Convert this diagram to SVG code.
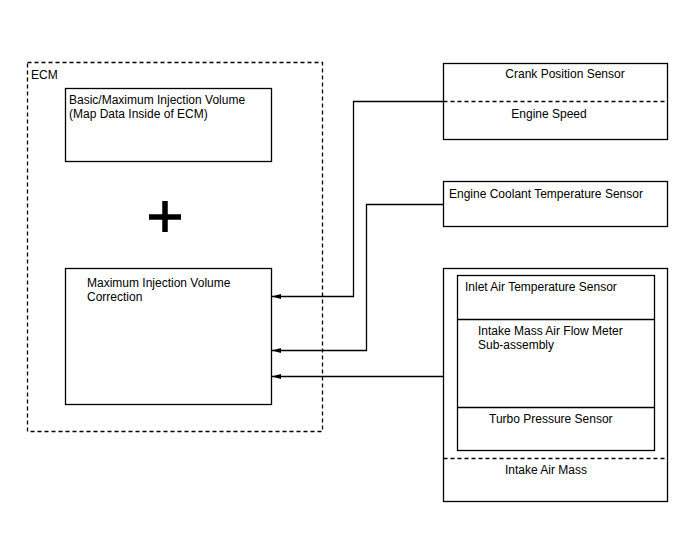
<svg xmlns="http://www.w3.org/2000/svg" width="688" height="560" viewBox="0 0 688 560">
<defs>
<style>
.box{fill:#fff;stroke:#000;stroke-width:1.3}
.dash{fill:none;stroke:#000;stroke-width:1.3;stroke-dasharray:4,3}
.ln{fill:none;stroke:#000;stroke-width:1.3}
text{font-family:"Liberation Sans",Arial,sans-serif;font-size:12px;fill:#000}
</style>
<marker id="ah" markerWidth="10" markerHeight="6" refX="9" refY="3" orient="auto" markerUnits="userSpaceOnUse">
<path d="M0,0.5 L9,3 L0,5.5 Z" fill="#000"/>
</marker>
</defs>
<rect width="688" height="560" fill="#fff"/>
<g id="ecm">
<rect class="dash" x="27.5" y="62.5" width="295" height="369"/>
<text x="31" y="79">ECM</text>
</g>
<g id="basic">
<rect class="box" x="65.5" y="88.5" width="206" height="73"/>
<text x="69" y="104">Basic/Maximum Injection Volume</text>
<text x="69" y="118">(Map Data Inside of ECM)</text>
</g>
<g id="plus">
<path d="M149,217 H181 M165,201 V232" stroke="#000" stroke-width="5.5"/>
</g>
<g id="correction">
<rect class="box" x="65.5" y="268.5" width="206" height="136"/>
<text x="87" y="287">Maximum Injection Volume</text>
<text x="87" y="301">Correction</text>
</g>
<g id="crank">
<rect class="box" x="443.5" y="63.5" width="224" height="76"/>
<line class="dash" x1="443.5" y1="101.5" x2="667.5" y2="101.5"/>
<text x="565" y="78" text-anchor="middle">Crank Position Sensor</text>
<text x="549" y="118" text-anchor="middle">Engine Speed</text>
</g>
<g id="coolant">
<rect class="box" x="443.5" y="181.5" width="224" height="45"/>
<text x="449" y="198">Engine Coolant Temperature Sensor</text>
</g>
<g id="intake">
<rect class="box" x="443.5" y="268.5" width="224" height="233"/>
<rect class="box" x="457.5" y="275.5" width="197" height="175"/>
<line class="ln" x1="457.5" y1="319.5" x2="654.5" y2="319.5"/>
<line class="ln" x1="457.5" y1="407.5" x2="654.5" y2="407.5"/>
<line class="dash" x1="443.5" y1="458.5" x2="667.5" y2="458.5"/>
<text x="465" y="291">Inlet Air Temperature Sensor</text>
<text x="478" y="335">Intake Mass Air Flow Meter</text>
<text x="478" y="349">Sub-assembly</text>
<text x="489" y="423">Turbo Pressure Sensor</text>
<text x="505" y="474">Intake Air Mass</text>
</g>
<g id="connectors">
<path class="ln" d="M443.5,101.5 H353.5 V296.5 H272" marker-end="url(#ah)"/>
<path class="ln" d="M443.5,204.5 H366.5 V350.5 H272" marker-end="url(#ah)"/>
<path class="ln" d="M443.5,376.5 H272" marker-end="url(#ah)"/>
</g>
</svg>
